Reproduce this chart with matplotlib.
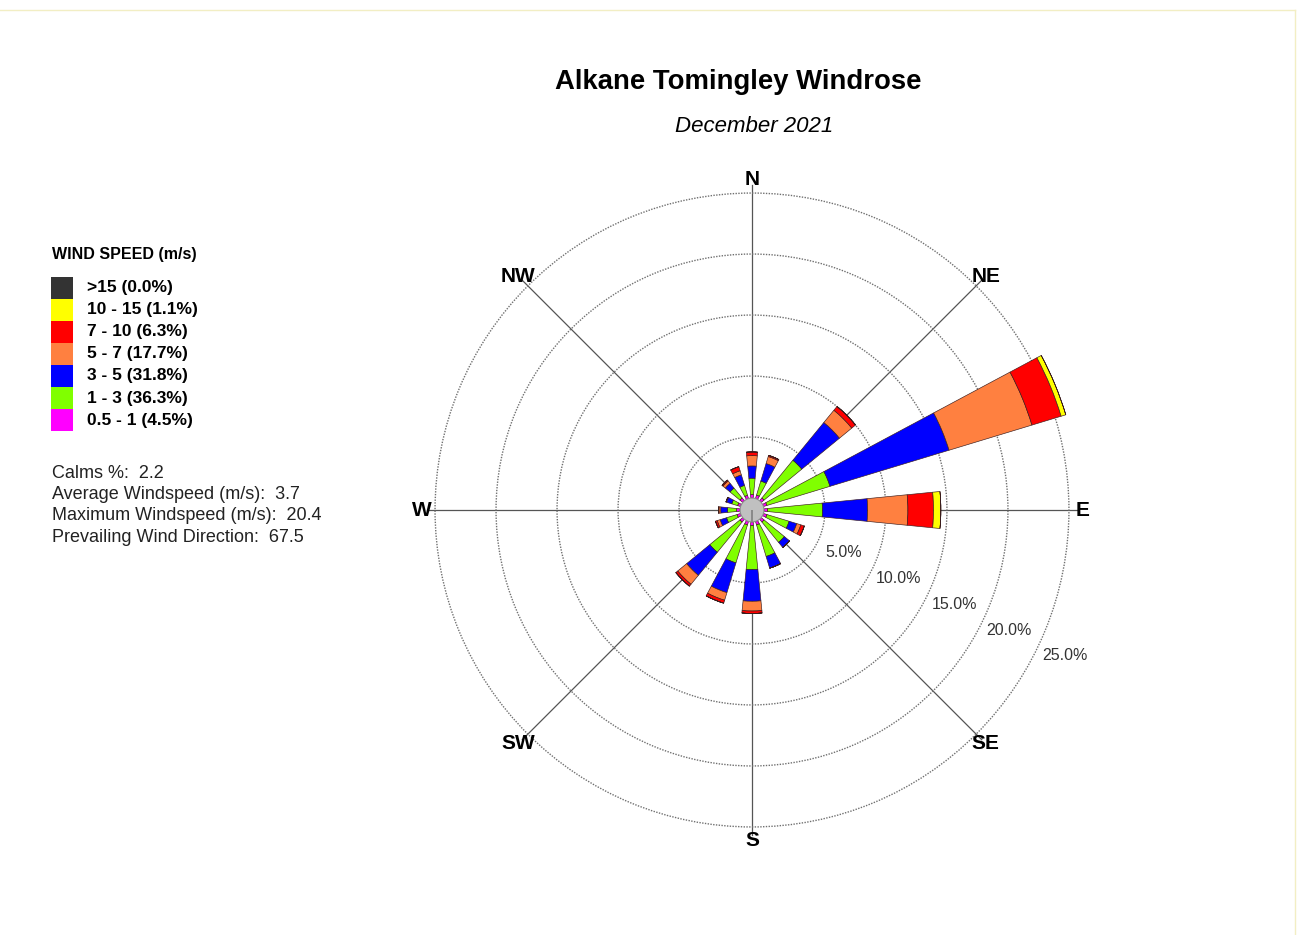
import numpy as np
import matplotlib.pyplot as plt
from matplotlib.patches import Rectangle
from matplotlib.lines import Line2D

plt.rcParams['font.family'] = ['Liberation Sans', 'DejaVu Sans']

# ---- data ----
directions = ['N', 'NNE', 'NE', 'ENE', 'E', 'ESE', 'SE', 'SSE',
              'S', 'SSW', 'SW', 'WSW', 'W', 'WNW', 'NW', 'NNW']
dir_deg = np.arange(16) * 22.5

speed_classes = ['0.5 - 1', '1 - 3', '3 - 5', '5 - 7', '7 - 10', '10 - 15', '>15']
class_pct = [4.5, 36.3, 31.8, 17.7, 6.3, 1.1, 0.0]
class_colors = ['#ff00ff', '#80ff00', '#0000ff', '#ff8040', '#ff0000', '#ffff00', '#333333']

# frequency (%) per direction, N clockwise
freq_05_1 = [0.28, 0.3, 0.3, 0.3, 0.3, 0.3, 0.3, 0.3, 0.3, 0.3, 0.3, 0.3, 0.28, 0.25, 0.3, 0.28]
freq_1_3 = [1.35, 1.2, 4.0, 5.4, 4.5, 1.9, 2.15, 2.7, 3.6, 3.25, 3.2, 0.9, 0.75, 0.5, 1.05, 0.85]
freq_3_5 = [1.0, 1.5, 4.0, 10.2, 3.7, 0.65, 0.55, 1.0, 2.6, 2.55, 2.45, 0.55, 0.55, 0.45, 0.5, 0.9]
freq_5_7 = [0.85, 0.6, 1.3, 7.1, 3.3, 0.35, 0.0, 0.0, 0.8, 0.65, 0.95, 0.25, 0.15, 0.05, 0.25, 0.35]
freq_7_10 = [0.3, 0.1, 0.4, 2.5, 2.1, 0.3, 0.0, 0.0, 0.2, 0.25, 0.2, 0.15, 0.05, 0.0, 0.1, 0.35]
freq_10_15 = [0, 0, 0, 0.4, 0.6, 0, 0, 0, 0, 0, 0, 0, 0, 0, 0, 0]
freq_15 = [0] * 16
freqs = [freq_05_1, freq_1_3, freq_3_5, freq_5_7, freq_7_10, freq_10_15, freq_15]

rings = [5, 10, 15, 20, 25]
ring_labels = ['5.0%', '10.0%', '15.0%', '20.0%', '25.0%']
compass = ['N', 'NE', 'E', 'SE', 'S', 'SW', 'W', 'NW']

title = 'Alkane Tomingley Windrose'
subtitle = 'December 2021'
stats = ['Calms %:  2.2',
         'Average Windspeed (m/s):  3.7',
         'Maximum Windspeed (m/s):  20.4',
         'Prevailing Wind Direction:  67.5']

# ---- layout helpers (pixels -> figure fraction) ----
W, H = 1301, 935
def fx(x): return x / W
def fy(y): return 1 - y / H

fig = plt.figure(figsize=(W / 100, H / 100), dpi=100)

# polar axes
cx, cy = 752, 510
px_per_pct = 12.2
calm_r = 0.98     # radius of calm circle, in % units
rmax = 26.5
R = (rmax + calm_r) * px_per_pct
ax = fig.add_axes([fx(cx - R), fy(cy + R), 2 * R / W, 2 * R / H], projection='polar')
ax.set_theta_zero_location('N')
ax.set_theta_direction(-1)
ax.set_rlim(-calm_r, rmax)
ax.spines['polar'].set_visible(False)
ax.set_xticks([])
ax.set_yticks(rings)
ax.set_yticklabels([])
ax.yaxis.grid(True, linestyle=(0, (1, 1)), color='#707070', linewidth=1.0)
ax.xaxis.grid(False)

# spokes
for d in range(0, 360, 45):
    ax.plot([np.deg2rad(d)] * 2, [-calm_r, 25.65], color='#555555', lw=0.9, zorder=1)

# stacked bars
theta = np.deg2rad(dir_deg)
bottom = np.zeros(16)
for vals, col in zip(freqs, class_colors):
    vals = np.array(vals, dtype=float)
    ax.bar(theta, vals, width=np.deg2rad(11.25), bottom=bottom, color=col,
           edgecolor='#3a1c1c', linewidth=0.45, zorder=3)
    bottom += vals

# calm circle
ax.bar(0, calm_r, width=2 * np.pi, bottom=-calm_r, color='#c0c0c0',
       edgecolor='#8a8a8a', linewidth=0.8, zorder=4)

# ring labels
for r, lab in zip(rings, ring_labels):
    ax.text(np.deg2rad(115), r + 2.3, lab, ha='center', va='center',
            fontsize=11.5, color='#333333')

# compass labels
for i, lab in enumerate(compass):
    ax.text(np.deg2rad(i * 45), 26.1, lab, ha='center', va='center',
            fontsize=15, fontweight='bold', color='black')

# titles
fig.text(fx(738), fy(82), title, ha='center', va='center', fontsize=19.8, fontweight='bold')
fig.text(fx(754), fy(127), subtitle, ha='center', va='center', fontsize=16, style='italic')

# legend
fig.text(fx(52), fy(254), 'WIND SPEED (m/s)', ha='left', va='center', fontsize=11.5, fontweight='bold')
for k, i in enumerate(range(len(speed_classes) - 1, -1, -1)):
    top = 276.5 + k * 22.1
    fig.add_artist(Rectangle((fx(51), fy(top + 22.1)), 22 / W, 22.1 / H,
                             transform=fig.transFigure, facecolor=class_colors[i], edgecolor='none'))
    fig.text(fx(87), fy(top + 11), '%s (%.1f%%)' % (speed_classes[i], class_pct[i]),
             ha='left', va='center', fontsize=12.5, fontweight='bold')

for k, line in enumerate(stats):
    fig.text(fx(52), fy(473 + k * 21.5), line, ha='left', va='center', fontsize=13, color='#222222')

# faint frame lines
fig.add_artist(Line2D([0, fx(1295)], [fy(10), fy(10)], transform=fig.transFigure, color='#f2eec4', lw=1))
fig.add_artist(Line2D([fx(1295), fx(1295)], [fy(10), 0], transform=fig.transFigure, color='#f2eec4', lw=1))

fig.savefig('out.png', dpi=100)
